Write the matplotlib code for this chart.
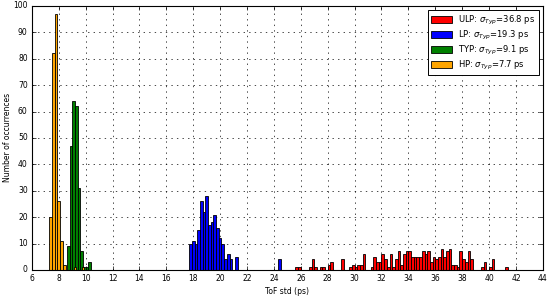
import numpy as np
import matplotlib
matplotlib.use("Agg")
import matplotlib.pyplot as plt

# histogram counts (bin width 0.2 ps), first bin left edge per corner
bin_w = 0.2

ulp_start = 25.6
ulp_counts = [1, 1, 0, 0, 0, 1, 4, 1, 0, 1, 1, 0, 2, 3, 0, 0, 0, 4, 0, 0,
              1, 2, 1, 2, 2, 6, 0, 0, 1, 5, 3, 3, 6, 4, 1, 6, 1, 4, 7, 2,
              6, 7, 7, 5, 5, 5, 5, 7, 6, 7, 3, 5, 4, 5, 8, 5, 7, 8, 2, 2,
              1, 7, 4, 3, 7, 4, 0, 0, 0, 1, 3, 0, 1, 4, 0, 0, 0, 0, 1]

lp_start = 17.7
lp_counts = [10, 11, 10, 15, 26, 22, 28, 17, 18, 21, 16, 12, 10, 4, 6, 4, 0, 5,
             0, 0, 0, 0, 0, 0, 0, 0, 0, 0, 0, 0, 0, 0, 0, 4]

typ_start = 8.6
typ_counts = [9, 47, 64, 62, 31, 7, 1, 1, 3]

hp_start = 7.3
hp_counts = [20, 82, 97, 26, 11, 2, 0, 0, 0, 1, 0, 0, 1]

labels = ['ULP: $\\sigma_{Typ}$=36.8 ps', 'LP: $\\sigma_{Typ}$=19.3 ps',
          'TYP: $\\sigma_{Typ}$=9.1 ps', 'HP: $\\sigma_{Typ}$=7.7 ps']
colors = ['red', 'blue', 'green', 'orange']

plt.style.use('classic')
plt.rcParams['font.family'] = ['DejaVu Sans']
plt.rcParams['mathtext.fontset'] = 'dejavusans'

fig = plt.figure(figsize=(5.5, 2.96), dpi=100, facecolor='white')
ax = fig.add_axes([0.058, 0.088, 0.929, 0.892])

series = [(ulp_start, ulp_counts), (lp_start, lp_counts),
          (typ_start, typ_counts), (hp_start, hp_counts)]
for (start, counts), col, lab in zip(series, colors, labels):
    counts = np.array(counts)
    edges = start + bin_w * np.arange(len(counts))
    keep = counts > 0
    ax.bar(edges[keep], counts[keep], width=bin_w, align='edge',
           color=col, edgecolor='black', linewidth=0.6, label=lab)

ax.set_xlim(6, 44)
ax.set_ylim(0, 100)
ax.set_xticks(np.arange(6, 45, 2))
ax.set_yticks(np.arange(0, 101, 10))
ax.tick_params(labelsize=5.5, length=3, width=0.5, direction='in',
               top=True, right=True, pad=3)
ax.grid(True, linestyle=':', color='black', linewidth=0.5)
ax.set_axisbelow(True)
for s in ax.spines.values():
    s.set_linewidth(0.8)

ax.set_xlabel('ToF std (ps)', fontsize=5.5, labelpad=3)
ax.set_ylabel('Number of occurrences', fontsize=5.5, labelpad=1)

leg = ax.legend(loc='upper right', fontsize=6, handlelength=2.5,
                handleheight=0.9, borderpad=0.4, labelspacing=0.25,
                fancybox=False, frameon=True, borderaxespad=0.5)
leg.get_frame().set_linewidth(0.7)

fig.savefig('out.png', dpi=100, facecolor='white')
